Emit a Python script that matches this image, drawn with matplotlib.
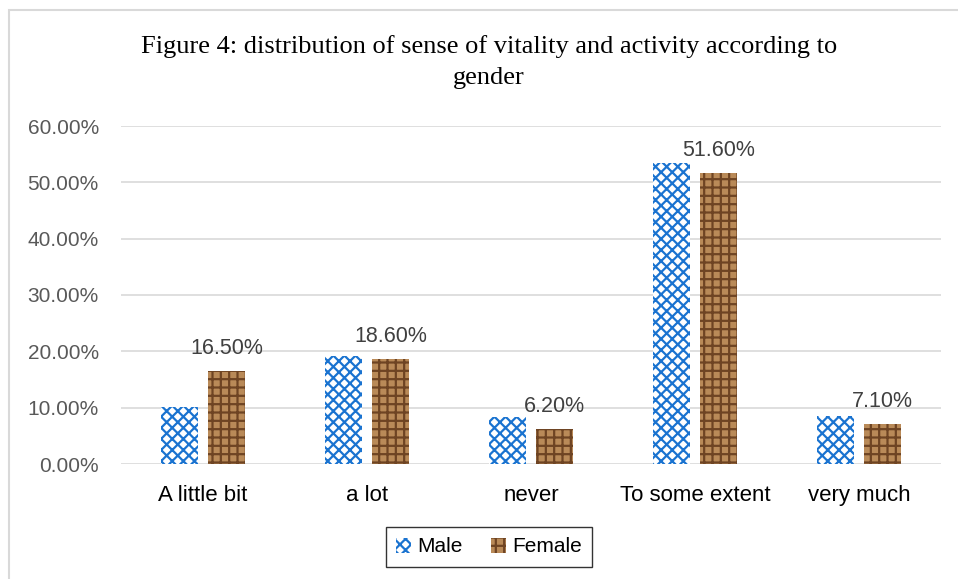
import numpy as np
import matplotlib.pyplot as plt
from matplotlib.patches import Rectangle
from matplotlib.ticker import FuncFormatter

categories = ["A little bit", "a lot", "never", "To some extent", "very much"]
male = [10.1, 19.2, 8.4, 53.5, 8.5]
female = [16.5, 18.6, 6.2, 51.6, 7.1]

W, H = 958, 579
fig = plt.figure(figsize=(W / 100, H / 100), dpi=100)

# light grey chart border (cropped on right / bottom)
fig.patches.append(Rectangle((9 / W, -0.1), 1.2, 1 - 10 / H + 0.1, transform=fig.transFigure,
                             fill=False, edgecolor="#d9d9d9", lw=1.5))

ax = fig.add_axes([121 / W, 1 - 464 / H, 820 / W, (464 - 126) / H])
x = np.arange(len(categories))
bw = 0.225
off = 0.145

plt.rcParams["hatch.linewidth"] = 1.6
ax.bar(x - off, male, bw, facecolor="white", edgecolor="#1a73d0", hatch="xxx", lw=0, label="Male", zorder=3)
ax.bar(x + off, female, bw, facecolor="#b98a58", edgecolor="#6e4423", hatch="++", lw=0, label="Female", zorder=3)

for xi, v in zip(x, female):
    ax.text(xi + off, v + 2.2, f"{v:.2f}%", ha="center", va="bottom",
            fontsize=15.5, color="#404040", family="Liberation Sans")

ax.set_xlim(-0.5, len(categories) - 0.5)
ax.set_ylim(0, 60)
ax.set_yticks(np.arange(0, 61, 10))
ax.yaxis.set_major_formatter(FuncFormatter(lambda v, p: f"{v:.2f}%"))
ax.grid(axis="y", color="#d9d9d9", lw=1.2, zorder=0)
ax.set_xticks(x)
ax.set_xticklabels(categories)
for s in ax.spines.values():
    s.set_visible(False)
ax.tick_params(length=0)
ax.tick_params(axis="y", labelsize=15, labelcolor="#595959", pad=16)
ax.tick_params(axis="x", labelsize=16, labelcolor="black", pad=15)
for lab in ax.get_xticklabels() + ax.get_yticklabels():
    lab.set_family("Liberation Sans")

fig.text(489 / W, 1 - 62 / H, "Figure 4: distribution of sense of vitality and activity according to\ngender",
         ha="center", va="center", fontsize=19, family="Liberation Serif", linespacing=1.5)

leg = fig.legend(loc="center", bbox_to_anchor=(489 / W, 1 - 547 / H), ncol=2, frameon=True,
                 fancybox=False, edgecolor="black", handlelength=0.7, handleheight=0.7,
                 handletextpad=0.3, columnspacing=1.4, borderpad=0.5, prop={"family": "Liberation Sans", "size": 15})
leg.get_frame().set_linewidth(1.0)

fig.savefig("out.png", dpi=100)
